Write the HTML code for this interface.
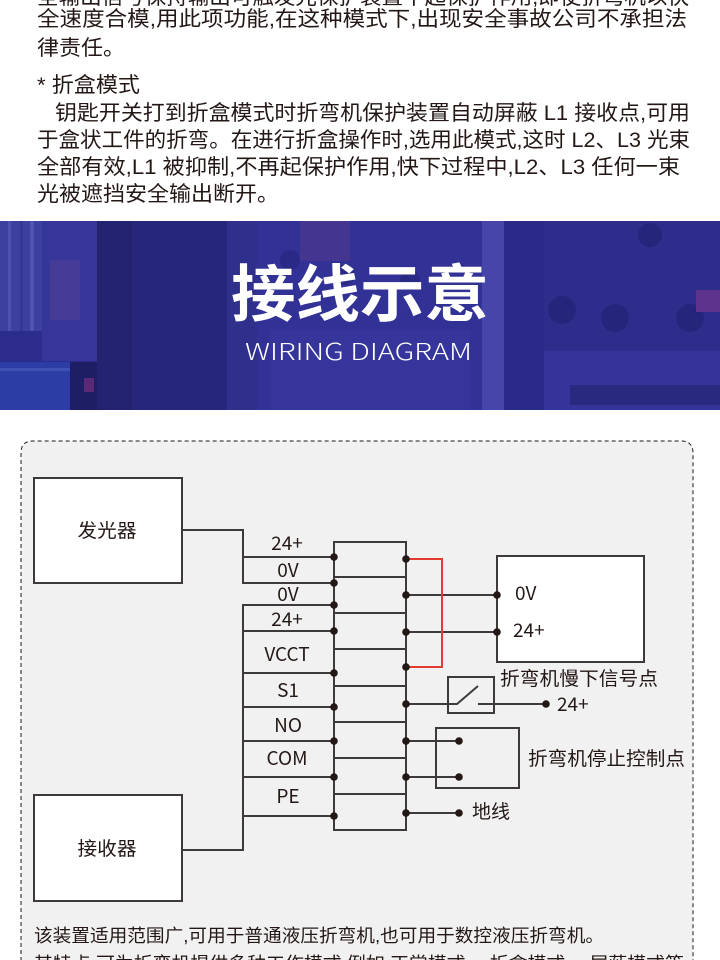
<!DOCTYPE html>
<html>
<head>
<meta charset="utf-8">
<style>
html,body{margin:0;padding:0;background:#fff;width:720px;height:960px;overflow:hidden;}
svg{display:block;}
</style>
</head>
<body>
<svg width="720" height="960" viewBox="0 0 720 960" xmlns="http://www.w3.org/2000/svg">
<rect width="720" height="960" fill="#ffffff"/>

<!-- Top paragraph text -->
<g font-family="'Liberation Sans','Noto Sans CJK SC',sans-serif" font-size="21" fill="#231815">
  <text x="37" y="4" textLength="652" lengthAdjust="spacingAndGlyphs">全输出信号保持输出可触发光保护装置不起保护作用,即使折弯机以快</text>
  <text x="37" y="26" textLength="650" lengthAdjust="spacingAndGlyphs">全速度合模,用此项功能,在这种模式下,出现安全事故公司不承担法</text>
  <text x="37" y="55" textLength="88" lengthAdjust="spacingAndGlyphs">律责任。</text>
  <text x="37" y="92" textLength="103" lengthAdjust="spacingAndGlyphs">* 折盒模式</text>
  <text x="55" y="120" textLength="635" lengthAdjust="spacingAndGlyphs">钥匙开关打到折盒模式时折弯机保护装置自动屏蔽 L1 接收点,可用</text>
  <text x="37" y="147" textLength="653" lengthAdjust="spacingAndGlyphs">于盒状工件的折弯。在进行折盒操作时,选用此模式,这时 L2、L3 光束</text>
  <text x="37" y="174" textLength="643" lengthAdjust="spacingAndGlyphs">全部有效,L1 被抑制,不再起保护作用,快下过程中,L2、L3 任何一束</text>
  <text x="37" y="201" textLength="242" lengthAdjust="spacingAndGlyphs">光被遮挡安全输出断开。</text>
</g>

<!-- Banner -->
<g>
  <rect x="0" y="221" width="720" height="189" fill="#2c2c8c"/>
  <!-- left ribbed column -->
  <rect x="0" y="221" width="42" height="110" fill="#3e40a0"/>
  <rect x="8" y="221" width="3" height="110" fill="#4d50ae"/>
  <rect x="20" y="221" width="3" height="110" fill="#363894"/>
  <rect x="30" y="221" width="4" height="110" fill="#5052b0"/>
  <rect x="42" y="221" width="55" height="140" fill="#35359a"/>
  <rect x="50" y="260" width="30" height="60" fill="#443c96"/>
  <!-- sensor box lower left -->
  <rect x="0" y="362" width="100" height="48" fill="#2c3ea6"/>
  <rect x="0" y="368" width="100" height="3" fill="#3e52b6"/>
  <rect x="70" y="362" width="48" height="48" fill="#1e1e64"/>
  <rect x="84" y="378" width="10" height="14" fill="#5a2a76"/>
  <!-- dark panels -->
  <rect x="97" y="221" width="35" height="189" fill="#232372"/>
  <rect x="132" y="221" width="95" height="189" fill="#26267a"/>
  <rect x="227" y="221" width="30" height="189" fill="#2f2f8c"/>
  <!-- center -->
  <rect x="257" y="221" width="225" height="189" fill="#313196"/>
  <rect x="300" y="221" width="50" height="40" fill="#433590"/>
  <circle cx="290" cy="260" r="10" fill="#2a2a86"/>
  <circle cx="345" cy="275" r="10" fill="#2a2a86"/>
  <circle cx="410" cy="280" r="10" fill="#2a2a86"/>
  <rect x="270" y="330" width="200" height="80" fill="#35359c"/>
  <!-- right -->
  <rect x="482" y="221" width="22" height="189" fill="#4646aa"/>
  <rect x="504" y="221" width="40" height="189" fill="#2a2a88"/>
  <rect x="544" y="221" width="176" height="130" fill="#2d2d8c"/>
  <circle cx="562" cy="310" r="14" fill="#25257c"/>
  <circle cx="615" cy="318" r="14" fill="#25257c"/>
  <circle cx="690" cy="318" r="14" fill="#25257c"/>
  <circle cx="650" cy="235" r="12" fill="#25257c"/>
  <rect x="606" y="355" width="36" height="32" fill="#5e338c"/>
  <rect x="696" y="290" width="24" height="22" fill="#5e338c"/>
  <rect x="544" y="351" width="176" height="59" fill="#34349a"/>
  <rect x="570" y="385" width="150" height="20" fill="#29297f"/>
  <!-- title -->
  <text x="231" y="316" textLength="258" lengthAdjust="spacingAndGlyphs" font-family="'Noto Sans CJK SC','WenQuanYi Zen Hei',sans-serif" font-size="62" font-weight="bold" fill="#ffffff">接线示意</text>
  <text x="245" y="360" textLength="227" lengthAdjust="spacingAndGlyphs" font-family="'Noto Sans CJK SC','Liberation Sans',sans-serif" font-size="23" font-weight="300" fill="#ffffff">WIRING DIAGRAM</text>
</g>

<!-- Diagram panel -->
<path d="M21,975 L21,453 Q21,441 33,441 L681,441 Q693,441 693,453 L693,975" fill="#f1f1f1" stroke="#231815" stroke-width="1" stroke-dasharray="4 3"/>

<g stroke="#3e3a39" stroke-width="2" fill="none">
  <!-- boxes -->
  <rect x="34" y="478" width="148" height="105" fill="#ffffff"/>
  <rect x="34" y="795" width="148" height="106" fill="#ffffff"/>
  <!-- emitter wiring -->
  <polyline points="182,530 243,530 243,583 334,583"/>
  <line x1="243" y1="557" x2="334" y2="557"/>
  <!-- receiver wiring -->
  <polyline points="182,850 243,850 243,605 334,605"/>
  <line x1="243" y1="631" x2="334" y2="631"/>
  <line x1="243" y1="673" x2="334" y2="673"/>
  <line x1="243" y1="707" x2="334" y2="707"/>
  <line x1="243" y1="741" x2="334" y2="741"/>
  <line x1="243" y1="777" x2="334" y2="777"/>
  <line x1="243" y1="816" x2="334" y2="816"/>
  <!-- terminal block -->
  <rect x="334" y="542" width="72" height="288"/>
  <line x1="334" y1="577" x2="406" y2="577"/>
  <line x1="334" y1="613" x2="406" y2="613"/>
  <line x1="334" y1="649" x2="406" y2="649"/>
  <line x1="334" y1="686" x2="406" y2="686"/>
  <line x1="334" y1="722" x2="406" y2="722"/>
  <line x1="334" y1="758" x2="406" y2="758"/>
  <line x1="334" y1="794" x2="406" y2="794"/>
  <!-- right box -->
  <rect x="497" y="556" width="147" height="106" fill="#ffffff"/>
  <line x1="406" y1="595" x2="497" y2="595"/>
  <line x1="406" y1="632" x2="497" y2="632"/>
  <!-- switch -->
  <rect x="448" y="677" width="46" height="36"/>
  <polyline points="406,704 457,704 478,686"/>
  <line x1="478" y1="704" x2="546" y2="704"/>
  <!-- stop box -->
  <rect x="436" y="728" width="83" height="60"/>
  <line x1="406" y1="741" x2="459" y2="741"/>
  <line x1="406" y1="777" x2="459" y2="777"/>
  <!-- ground -->
  <line x1="406" y1="813" x2="459" y2="813"/>
</g>

<!-- red jumper -->
<polyline points="406,559 442,559 442,667 406,667" fill="none" stroke="#e53a30" stroke-width="2"/>

<!-- dots -->
<g fill="#231815">
  <circle cx="334" cy="557" r="3.8"/>
  <circle cx="334" cy="583" r="3.8"/>
  <circle cx="334" cy="605" r="3.8"/>
  <circle cx="334" cy="631" r="3.8"/>
  <circle cx="334" cy="673" r="3.8"/>
  <circle cx="334" cy="707" r="3.8"/>
  <circle cx="334" cy="741" r="3.8"/>
  <circle cx="334" cy="777" r="3.8"/>
  <circle cx="334" cy="816" r="3.8"/>
  <circle cx="406" cy="559" r="3.8"/>
  <circle cx="406" cy="595" r="3.8"/>
  <circle cx="406" cy="632" r="3.8"/>
  <circle cx="406" cy="667" r="3.8"/>
  <circle cx="406" cy="704" r="3.8"/>
  <circle cx="406" cy="741" r="3.8"/>
  <circle cx="406" cy="777" r="3.8"/>
  <circle cx="406" cy="813" r="3.8"/>
  <circle cx="497" cy="595" r="3.8"/>
  <circle cx="497" cy="632" r="3.8"/>
  <circle cx="546" cy="704" r="3.8"/>
  <circle cx="459" cy="741" r="3.8"/>
  <circle cx="459" cy="777" r="3.8"/>
  <circle cx="459" cy="813" r="3.8"/>
</g>

<!-- diagram labels -->
<g font-family="'Noto Sans CJK SC','Liberation Sans',sans-serif" font-size="19" fill="#231815">
  <text x="107" y="537" text-anchor="middle" textLength="59" lengthAdjust="spacingAndGlyphs">发光器</text>
  <text x="107" y="855" text-anchor="middle" textLength="59" lengthAdjust="spacingAndGlyphs">接收器</text>
  <g text-anchor="middle">
    <text x="287" y="550">24+</text>
    <text x="288" y="577">0V</text>
    <text x="288" y="601">0V</text>
    <text x="287" y="626">24+</text>
    <text x="287" y="661">VCCT</text>
    <text x="288" y="697">S1</text>
    <text x="288" y="732">NO</text>
    <text x="287" y="765">COM</text>
    <text x="288" y="803">PE</text>
  </g>
  <text x="515" y="600">0V</text>
  <text x="513" y="637">24+</text>
  <text x="500" y="685" textLength="158" lengthAdjust="spacingAndGlyphs">折弯机慢下信号点</text>
  <text x="557" y="711">24+</text>
  <text x="528" y="765" textLength="157" lengthAdjust="spacingAndGlyphs">折弯机停止控制点</text>
  <text x="472" y="818" textLength="38" lengthAdjust="spacingAndGlyphs">地线</text>
</g>

<!-- bottom text -->
<g font-family="'Liberation Sans','Noto Sans CJK SC',sans-serif" font-size="18" fill="#231815">
  <text x="34" y="942" textLength="570" lengthAdjust="spacingAndGlyphs">该装置适用范围广,可用于普通液压折弯机,也可用于数控液压折弯机。</text>
  <text x="34" y="970" textLength="650" lengthAdjust="spacingAndGlyphs">其特点,可为折弯机提供多种工作模式,例如:正常模式、 折盒模式、 屏蔽模式等</text>
</g>
</svg>
</body>
</html>
